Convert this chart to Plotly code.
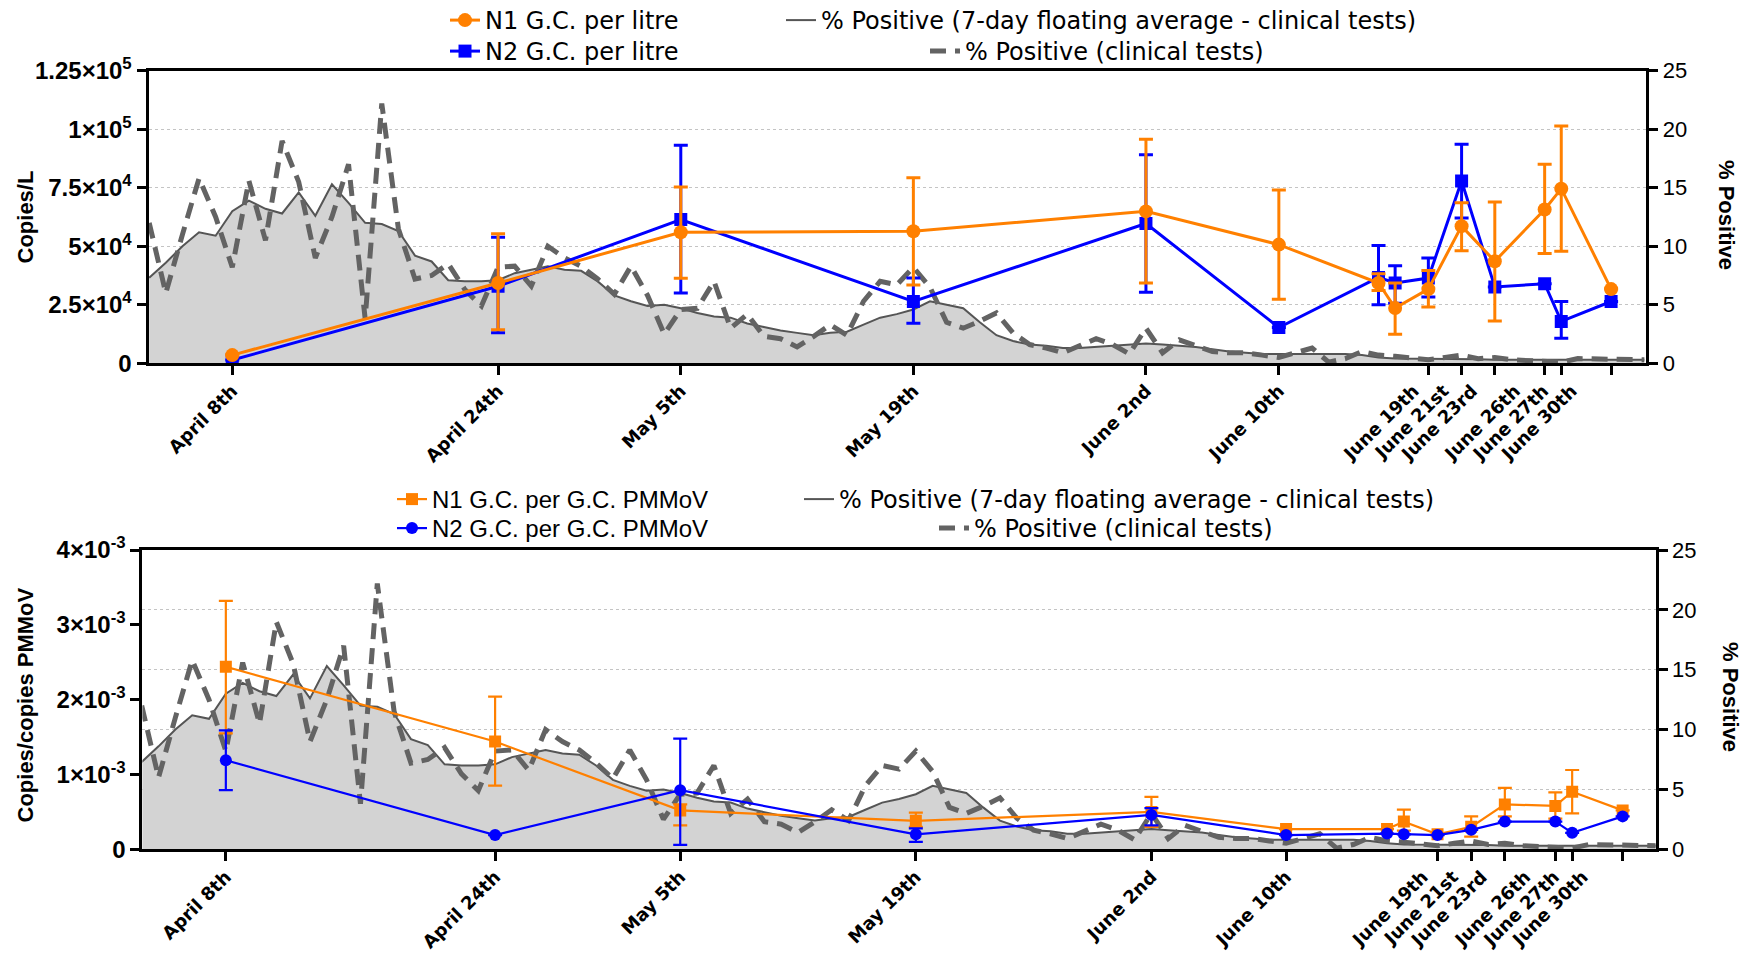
import pandas as pd
import plotly.graph_objects as go

# ---------------- data ----------------
sample_dates = ['2020-04-08', '2020-04-24', '2020-05-05', '2020-05-19', '2020-06-02', '2020-06-10',
                '2020-06-16', '2020-06-17', '2020-06-19', '2020-06-21', '2020-06-23', '2020-06-26',
                '2020-06-27', '2020-06-30']
tick_dates = ['2020-04-08', '2020-04-24', '2020-05-05', '2020-05-19', '2020-06-02', '2020-06-10',
              '2020-06-19', '2020-06-21', '2020-06-23', '2020-06-26', '2020-06-27', '2020-06-30']
tick_labels = ['April 8th', 'April 24th', 'May 5th', 'May 19th', 'June 2nd', 'June 10th',
               'June 19th', 'June 21st', 'June 23rd', 'June 26th', 'June 27th', 'June 30th']

# copies per litre
N1_L = [3500, 34300, 56000, 56400, 64900, 50700, 34300, 23600, 31700, 58600, 43600, 65700, 74600, 31700]
N1_L_hi = [3500, 55300, 75300, 79300, 95700, 74000, 38300, 34300, 39600, 68600, 68900, 85000, 101400, 31700]
N1_L_lo = [3500, 14300, 36300, 33400, 34300, 27400, 31100, 12400, 24000, 48100, 18100, 46900, 47900, 31700]
N2_L = [1400, 32900, 61400, 26400, 59700, 15300, 36700, 34300, 36400, 77900, 32600, 34000, 17900, 26400]
N2_L_hi = [1400, 53900, 93100, 36400, 89100, 15300, 50300, 41700, 45000, 93600, 32600, 34000, 26400, 26400]
N2_L_lo = [1400, 13100, 30000, 17100, 30400, 15300, 25000, 25700, 28300, 62100, 32600, 34000, 10700, 26400]

# copies per copies PMMoV
N1_P = [2.44e-3, 1.44e-3, 0.52e-3, 0.38e-3, 0.50e-3, 0.27e-3, 0.27e-3, 0.37e-3, 0.20e-3, 0.30e-3,
        0.60e-3, 0.58e-3, 0.77e-3, 0.52e-3]
N1_P_hi = [3.32e-3, 2.04e-3, 0.60e-3, 0.49e-3, 0.70e-3, 0.27e-3, 0.27e-3, 0.53e-3, 0.20e-3, 0.44e-3,
           0.82e-3, 0.76e-3, 1.06e-3, 0.52e-3]
N1_P_lo = [1.55e-3, 0.85e-3, 0.32e-3, 0.30e-3, 0.30e-3, 0.27e-3, 0.27e-3, 0.25e-3, 0.20e-3, 0.17e-3,
           0.44e-3, 0.41e-3, 0.48e-3, 0.52e-3]
N2_P = [1.19e-3, 0.19e-3, 0.79e-3, 0.20e-3, 0.46e-3, 0.19e-3, 0.21e-3, 0.20e-3, 0.19e-3, 0.26e-3,
        0.37e-3, 0.37e-3, 0.22e-3, 0.44e-3]
N2_P_hi = [1.59e-3, 0.19e-3, 1.48e-3, 0.28e-3, 0.55e-3, 0.19e-3, 0.21e-3, 0.20e-3, 0.19e-3, 0.26e-3,
           0.37e-3, 0.37e-3, 0.22e-3, 0.44e-3]
N2_P_lo = [0.79e-3, 0.19e-3, 0.06e-3, 0.10e-3, 0.32e-3, 0.19e-3, 0.21e-3, 0.20e-3, 0.19e-3, 0.26e-3,
           0.37e-3, 0.37e-3, 0.22e-3, 0.44e-3]

# clinical % positive, daily from 2020-04-03
clinical_start = '2020-04-03'
pct_daily = [12.0, 6.0, 11.0, 15.8, 12.5, 8.2, 15.6, 10.5, 19.0, 15.5, 9.0, 12.5, 17.0, 3.8, 22.2, 11.5,
             7.2, 7.5, 8.5, 6.3, 4.9, 8.2, 8.3, 6.6, 10.0, 9.0, 8.3, 7.2,
             5.9, 8.3, 5.8, 2.5, 4.6, 4.7, 7.0, 3.0, 4.2, 2.3, 2.1, 1.4, 2.3, 3.3, 2.4, 5.3, 7.0, 6.7,
             8.2, 6.5, 3.5, 3.0, 3.6, 4.3, 2.6, 1.6, 1.3, 0.9, 1.5, 2.1, 1.6,
             0.8, 3.0, 0.9, 2.0, 1.5, 1.0, 0.9, 0.9, 0.7, 0.5, 0.9, 1.3, 0.1, 0.4, 1.0, 0.7, 0.6, 0.5,
             0.3, 0.5, 0.7, 0.4, 0.5, 0.3, 0.2, 0.1, 0.1, 0.4, 0.4, 0.3,
             0.4, 0.3]
pct_7day = [7.3, 8.6, 10.0, 11.2, 10.9, 13.0, 13.9, 13.2, 12.8, 14.6, 12.6, 15.3, 13.7, 12.0, 11.9, 11.3,
            9.2, 8.7, 7.1, 7.0, 7.0, 7.1, 7.7, 8.0, 8.3, 8.0, 7.9, 7.0,
            5.8, 5.3, 4.9, 5.0, 4.7, 4.3, 4.0, 3.9, 3.4, 3.1, 2.8, 2.6, 2.4, 2.6, 2.7, 3.3, 3.9, 4.2,
            4.6, 5.3, 5.0, 4.7, 3.5, 2.4, 1.9, 1.6, 1.5, 1.3, 1.3, 1.4, 1.5,
            1.6, 1.7, 1.6, 1.5, 1.4, 1.2, 1.0, 0.9, 0.8, 0.8, 0.8, 0.8, 0.8, 0.8, 0.7, 0.5, 0.4, 0.4,
            0.4, 0.4, 0.4, 0.35, 0.3, 0.3, 0.3, 0.3, 0.3, 0.3, 0.3, 0.3,
            0.3, 0.3]
clinical_dates = pd.date_range(clinical_start, periods=len(pct_daily), freq='D')

left_ticks_top = [0, 25000, 50000, 75000, 100000, 125000]
left_text_top = ['0', '2.5×10<sup>4</sup>', '5×10<sup>4</sup>', '7.5×10<sup>4</sup>',
                 '1×10<sup>5</sup>', '1.25×10<sup>5</sup>']
left_ticks_bot = [0, 1e-3, 2e-3, 3e-3, 4e-3]
left_text_bot = ['0', '1×10<sup>-3</sup>', '2×10<sup>-3</sup>', '3×10<sup>-3</sup>', '4×10<sup>-3</sup>']
right_ticks = [0, 5, 10, 15, 20, 25]

# where the (hand-placed) date labels sit under the axis; the late-June ones are squeezed left
label_anchor = ['2020-04-08', '2020-04-24', '2020-05-05', '2020-05-19', '2020-06-02', '2020-06-10',
                '2020-06-18 03:00', '2020-06-19 22:00', '2020-06-21 15:00', '2020-06-24 05:00',
                '2020-06-25 22:00', '2020-06-27 15:00']

# ---------------- style / geometry ----------------
ORANGE = '#FF8000'
BLUE = '#0000FF'
GREY_LINE = '#555555'
GREY_FILL = '#D3D3D3'
GREY_DASH = '#636363'
SCREEN_W, SCREEN_H = 1749, 955
OFF = 8                       # page body margin
W, H = SCREEN_W - OFF, SCREEN_H - OFF


def fx(px):
    return (px - OFF) / W


def fy(py):
    return 1 - (py - OFF) / H


def errs(vals, hi, lo):
    return [h - v for v, h in zip(vals, hi)], [v - l for v, l in zip(vals, lo)]


fig = go.Figure()


def clinical(xa, ya, leg_avg, leg_daily):
    fig.add_trace(go.Scatter(x=clinical_dates, y=pct_7day, xaxis=xa, yaxis=ya, mode='lines',
                             line=dict(width=0, color=GREY_LINE), fill='tozeroy', fillcolor=GREY_FILL,
                             showlegend=False, hoverinfo='skip'))
    fig.add_trace(go.Scatter(x=clinical_dates, y=pct_7day, xaxis=xa, yaxis=ya, mode='lines',
                             line=dict(color=GREY_LINE, width=2),
                             name='% Positive (7-day floating average - clinical tests)', legend=leg_avg))
    fig.add_trace(go.Scatter(x=clinical_dates, y=pct_daily, xaxis=xa, yaxis=ya, mode='lines',
                             line=dict(color=GREY_DASH, width=5, dash='16px,9px'),
                             name='% Positive (clinical tests)', legend=leg_daily))


def series(xa, ya, vals, hi, lo, color, symbol, msize, lw, name, leg):
    ep, em = errs(vals, hi, lo)
    fig.add_trace(go.Scatter(x=sample_dates, y=vals, xaxis=xa, yaxis=ya, mode='lines+markers',
                             line=dict(color=color, width=lw),
                             marker=dict(symbol=symbol, size=msize, color=color),
                             error_y=dict(type='data', array=ep, arrayminus=em, color=color,
                                          thickness=lw, width=7),
                             name=name, legend=leg))


def label_holder(xa, ya):
    # invisible carrier so that the date-label axis is drawn
    fig.add_trace(go.Scatter(x=label_anchor, y=[None] * len(label_anchor), xaxis=xa, yaxis=ya,
                             mode='markers', showlegend=False, hoverinfo='skip'))


# top panel
clinical('x', 'y', 'legend3', 'legend4')
series('x', 'y2', N2_L, N2_L_hi, N2_L_lo, BLUE, 'square', 13, 3, 'N2 G.C. per litre', 'legend2')
series('x', 'y2', N1_L, N1_L_hi, N1_L_lo, ORANGE, 'circle', 14, 3, 'N1 G.C. per litre', 'legend')
label_holder('x3', 'y')
# bottom panel
clinical('x2', 'y3', 'legend7', 'legend8')
series('x2', 'y4', N1_P, N1_P_hi, N1_P_lo, ORANGE, 'square', 12, 2.2, 'N1 G.C. per G.C. PMMoV', 'legend5')
series('x2', 'y4', N2_P, N2_P_hi, N2_P_lo, BLUE, 'circle', 12, 2.2, 'N2 G.C. per G.C. PMMoV', 'legend6')
label_holder('x4', 'y3')

# ---------------- axes ----------------
xfont = dict(family='DejaVu Sans', size=18, color='black', weight='bold')
tick_x = dict(type='date', tickmode='array', tickvals=tick_dates, showticklabels=False,
              ticks='outside', ticklen=9, tickwidth=3, tickcolor='black', showline=True, linewidth=3,
              linecolor='black', mirror=True, showgrid=False, zeroline=False, automargin=False)
label_x = dict(type='date', tickmode='array', tickvals=label_anchor, ticktext=tick_labels, tickangle=-45,
               ticks='outside', ticklen=9, tickcolor='rgba(0,0,0,0)', showline=False, showgrid=False,
               zeroline=False, tickfont=xfont, automargin=False, side='bottom')
right_y = dict(side='right', range=[0, 25], tickmode='array', tickvals=right_ticks, ticks='outside',
               ticklen=9, tickwidth=3, tickcolor='black', showline=True, linewidth=3, linecolor='black',
               showgrid=True, gridcolor='#C4C4C4', griddash='dot', gridwidth=1, zeroline=False,
               tickfont=dict(family='Liberation Sans', size=22, color='black'), automargin=False)
left_font = dict(family='Liberation Sans', size=24, color='black', weight='bold')
left_y = dict(side='left', tickmode='array', ticks='outside', ticklen=9, tickwidth=3, tickcolor='black',
              showline=True, linewidth=3, linecolor='black', showgrid=False, zeroline=False,
              tickfont=left_font, automargin=False)

top_dom_x = [fx(148.5), fx(1646.4)]
bot_dom_x = [fx(142.4), fx(1655.6)]
top_range = ['2020-04-02 23:00', '2020-07-02 03:00']
bot_range = ['2020-04-03 01:00', '2020-07-01 23:00']

fig.update_layout(
    width=W, height=H, margin=dict(l=0, r=0, t=0, b=0, autoexpand=False),
    paper_bgcolor='white', plot_bgcolor='rgba(0,0,0,0)',
    xaxis=dict(tick_x, domain=top_dom_x, anchor='y', range=top_range),
    yaxis=dict(right_y, domain=[fy(363.3), fy(70.7)], anchor='x'),
    yaxis2=dict(left_y, overlaying='y', anchor='x', range=[0, 125000],
                tickvals=left_ticks_top, ticktext=left_text_top),
    xaxis2=dict(tick_x, domain=bot_dom_x, anchor='y3', range=bot_range),
    yaxis3=dict(right_y, domain=[fy(849.3), fy(550)], anchor='x2'),
    yaxis4=dict(left_y, overlaying='y3', anchor='x2', range=[0, 0.004],
                tickvals=left_ticks_bot, ticktext=left_text_bot),
    xaxis3=dict(label_x, overlaying='x', anchor='y', range=top_range),
    xaxis4=dict(label_x, overlaying='x2', anchor='y3', range=bot_range),
    showlegend=True,
)

top_leg_font = dict(family='DejaVu Sans', size=24, color='black')
bot_leg_font1 = dict(family='Liberation Sans', size=24, color='black')
bot_leg_font2 = dict(family='DejaVu Sans', size=24, color='black')
LEG_HALF = 19   # distance from a one-row legend's top edge to its row centre


def leg(text_x, y_px, font):
    return dict(x=fx(text_x - 44), y=fy(y_px - LEG_HALF), xanchor='left', yanchor='top',
                bgcolor='rgba(0,0,0,0)', font=font, orientation='v', itemwidth=30,
                tracegroupgap=0)


fig.update_layout(
    legend=leg(489, 17, top_leg_font),
    legend2=leg(489, 48, top_leg_font),
    legend3=leg(825, 17, top_leg_font),
    legend4=leg(969, 48, top_leg_font),
    legend5=leg(436, 496, bot_leg_font1),
    legend6=leg(436, 525, bot_leg_font1),
    legend7=leg(843, 496, bot_leg_font2),
    legend8=leg(978, 525, bot_leg_font2),
)

title_font = dict(family='Liberation Sans', size=22, color='black', weight='bold')
for txt, xp, yp, ang in [('Copies/L', 24.5, 217, -90), ('% Positive', 1727, 215, 90),
                         ('Copies/copies PMMoV', 24.5, 705, -90), ('% Positive', 1731, 697, 90)]:
    fig.add_annotation(text=txt, x=fx(xp), y=fy(yp), xref='paper', yref='paper', showarrow=False,
                       textangle=ang, font=title_font, xanchor='center', yanchor='middle')

fig.write_html('out.html')
